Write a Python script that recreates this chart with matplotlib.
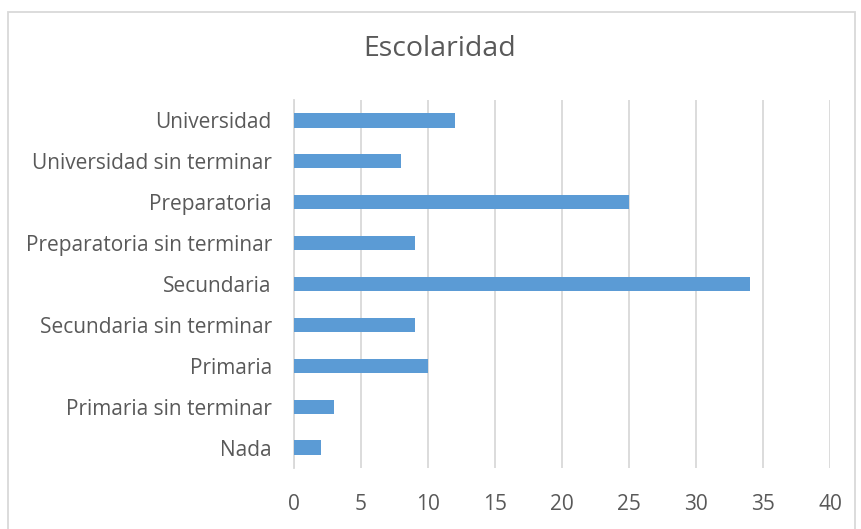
import matplotlib
matplotlib.use('Agg')
import matplotlib.pyplot as plt
from matplotlib.patches import Rectangle

categories = ['Nada', 'Primaria sin terminar', 'Primaria', 'Secundaria sin terminar',
              'Secundaria', 'Preparatoria sin terminar', 'Preparatoria',
              'Universidad sin terminar', 'Universidad']
values = [2, 3, 10, 9, 34, 9, 25, 8, 12]
xticks = [0, 5, 10, 15, 20, 25, 30, 35, 40]

plt.rcParams['font.family'] = ['Open Sans', 'DejaVu Sans']
txt = '#595959'

fig = plt.figure(figsize=(8.62, 5.29), dpi=100)
ax = fig.add_axes([294/862, 1 - 468/529, (830-294)/862, (468-100)/529])

ax.barh(range(len(categories)), values, height=0.35, color='#5b9bd5', zorder=3)
ax.set_ylim(-0.5, len(categories) - 0.5)
ax.set_xlim(0, 40)
ax.set_xticks(xticks)
ax.set_yticks(range(len(categories)))
ax.set_yticklabels(categories)
ax.tick_params(axis='both', length=0, labelsize=15, colors=txt)
ax.tick_params(axis='y', pad=16)
ax.tick_params(axis='x', pad=19)
ax.grid(axis='x', color='#d9d9d9', linewidth=1.3, zorder=0)
for s in ['top', 'right', 'bottom']:
    ax.spines[s].set_visible(False)
ax.spines['left'].set_color('#d9d9d9')
ax.spines['left'].set_linewidth(1.3)

fig.text(440/862, 1 - 49/529, 'Escolaridad', ha='center', va='center',
         fontsize=20.5, color=txt)

fig.patches.append(Rectangle((8/862, -0.01), (855-8)/862, 1.01 - 12/529,
                             transform=fig.transFigure, fill=False,
                             edgecolor='#d9d9d9', linewidth=1.3))

fig.savefig('out.png', dpi=100)
